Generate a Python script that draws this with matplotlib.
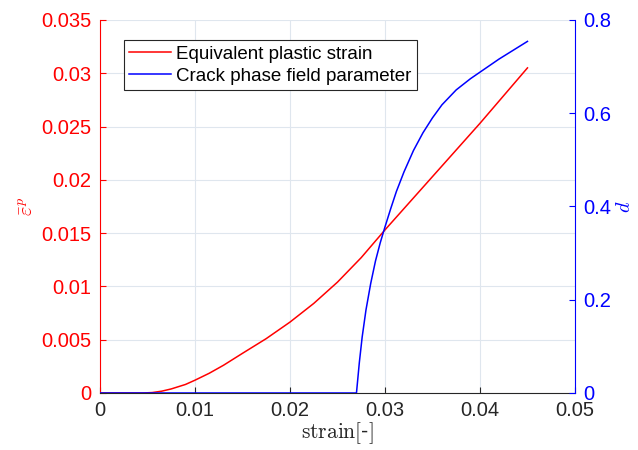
import numpy as np
import matplotlib
matplotlib.use('Agg')
import matplotlib.pyplot as plt

# data
strain_ep = [0, 0.0045, 0.0055, 0.0065, 0.0075, 0.0090, 0.0100, 0.0115, 0.0130,
             0.0150, 0.0175, 0.0200, 0.0225, 0.0250, 0.0275, 0.0300, 0.0350,
             0.0400, 0.0450]
eq_plastic = [0, 0, 0.00004, 0.00017, 0.00038, 0.00080, 0.00120, 0.00185, 0.00260,
              0.00372, 0.0051, 0.00665, 0.0084, 0.0104, 0.0127, 0.0153, 0.0203,
              0.0253, 0.0305]

strain_d = [0, 0.0270, 0.0273, 0.0276, 0.0280, 0.0285, 0.0290, 0.0295, 0.0300,
            0.0306, 0.0312, 0.0320, 0.0330, 0.0340, 0.0350, 0.0360, 0.0375,
            0.0390, 0.0405, 0.0420, 0.0435, 0.0450]
crack_d = [0, 0, 0.065, 0.12, 0.178, 0.235, 0.283, 0.322, 0.356,
           0.395, 0.432, 0.474, 0.520, 0.558, 0.590, 0.618, 0.650,
           0.674, 0.695, 0.716, 0.735, 0.754]

x_ticks = [0, 0.01, 0.02, 0.03, 0.04, 0.05]
x_labels = ['0', '0.01', '0.02', '0.03', '0.04', '0.05']
left_ticks = [0, 0.005, 0.01, 0.015, 0.02, 0.025, 0.03, 0.035]
left_labels = ['0', '0.005', '0.01', '0.015', '0.02', '0.025', '0.03', '0.035']
right_ticks = [0, 0.2, 0.4, 0.6, 0.8]
right_labels = ['0', '0.2', '0.4', '0.6', '0.8']

plt.rcParams['font.family'] = ['Liberation Sans', 'DejaVu Sans']
plt.rcParams['mathtext.fontset'] = 'cm'
fs = 14.5

fig = plt.figure(figsize=(6.38, 4.5), dpi=100)
ax = fig.add_axes([0.1567, 0.1267, 0.7445, 0.829])
ax2 = ax.twinx()

l1, = ax.plot(strain_ep, eq_plastic, color='red', lw=1.1, label='Equivalent plastic strain')
l2, = ax2.plot(strain_d, crack_d, color='blue', lw=1.1, label='Crack phase field parameter')

ax.set_xlim(0, 0.05)
ax.set_ylim(0, 0.035)
ax2.set_ylim(0, 0.8)
ax.set_xticks(x_ticks)
ax.set_xticklabels(x_labels, fontsize=fs)
ax.set_yticks(left_ticks)
ax.set_yticklabels(left_labels, fontsize=fs, color='red')
ax2.set_yticks(right_ticks)
ax2.set_yticklabels(right_labels, fontsize=fs, color='blue')

ax.grid(True, color='#dfe6ee', lw=0.8)
ax.set_axisbelow(True)

for a in (ax, ax2):
    a.spines['top'].set_visible(False)
ax.spines['left'].set_color('red')
ax.spines['right'].set_visible(False)
ax2.spines['left'].set_visible(False)
ax2.spines['bottom'].set_visible(False)
ax2.spines['right'].set_color('blue')
ax.spines['bottom'].set_color('#262626')

ax.tick_params(axis='x', direction='in', length=4, colors='#262626', labelcolor='#262626', pad=6)
ax.tick_params(axis='y', direction='in', length=4, colors='red', pad=6)
ax2.tick_params(axis='y', direction='in', length=4, colors='blue', pad=6)

ax.set_xlabel(r'$\mathrm{strain[}$-$\mathrm{]}$', fontsize=fs + 1, color='#262626', labelpad=0)
ax.set_ylabel(r'$\bar{\varepsilon}^p$', fontsize=fs, color='red', labelpad=3)
ax2.set_ylabel(r'$d$', fontsize=fs, color='blue', labelpad=3)

leg = ax.legend(handles=[l1, l2], loc='upper left', bbox_to_anchor=(0.05, 0.946),
                borderaxespad=0, fontsize=fs - 1, fancybox=False, framealpha=1,
                edgecolor='#262626', handlelength=2.2, handletextpad=0.3,
                labelspacing=0.25, borderpad=0.3)
leg.get_frame().set_linewidth(0.8)

fig.savefig('out.png', dpi=100)
